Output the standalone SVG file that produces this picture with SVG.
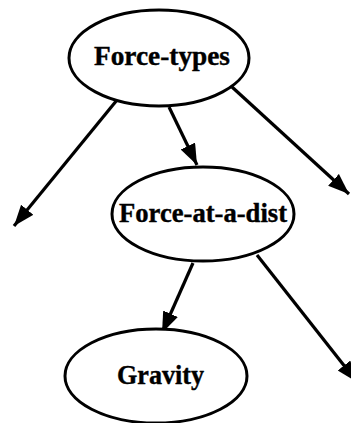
<svg xmlns="http://www.w3.org/2000/svg" width="351" height="423" viewBox="0 0 351 423">
<style>
.node ellipse{fill:#fff;stroke:#000;stroke-width:3}
.node text{font-family:"Liberation Serif","Times New Roman",serif;font-weight:bold;font-size:27px;text-anchor:middle;fill:#000;stroke:#000;stroke-width:0.4}
.edges line{stroke:#000;stroke-width:3.2;marker-end:url(#arr)}
</style>
<defs>
<marker id="arr" markerUnits="userSpaceOnUse" markerWidth="24" markerHeight="18" refX="21" refY="8" orient="auto">
<path d="M0,0 L21,8 L0,16 Z" fill="#000"/>
</marker>
</defs>
<rect width="351" height="423" fill="#fff"/>
<g class="edges">
<line x1="117" y1="100" x2="14" y2="226"/>
<line x1="169" y1="107" x2="197" y2="165"/>
<line x1="232" y1="87" x2="349" y2="194"/>
<line x1="193" y1="263" x2="162" y2="333"/>
<line x1="257" y1="255" x2="357" y2="382"/>
</g>
<g id="force-types" class="node">
<ellipse cx="159" cy="58" rx="90" ry="48"/>
<text x="162" y="65" textLength="136" lengthAdjust="spacingAndGlyphs">Force-types</text>
</g>
<g id="force-at-a-dist" class="node">
<ellipse cx="203" cy="214" rx="91" ry="47"/>
<text x="203" y="222" textLength="168" lengthAdjust="spacingAndGlyphs">Force-at-a-dist</text>
</g>
<g id="gravity" class="node">
<ellipse cx="156" cy="376" rx="91" ry="47"/>
<text x="160.5" y="384" textLength="87" lengthAdjust="spacingAndGlyphs">Gravity</text>
</g>
</svg>
